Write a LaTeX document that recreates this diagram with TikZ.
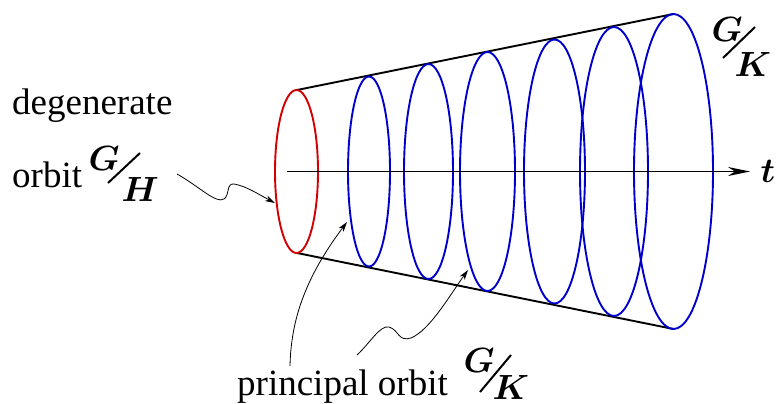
\documentclass[tikz,border=0pt]{standalone}
\usepackage{fontspec}
\setmainfont{Liberation Serif}
\usetikzlibrary{arrows.meta}
\definecolor{orbred}{RGB}{210,0,0}
\definecolor{orbblue}{RGB}{0,0,205}
\newcommand\qlett[1]{{\boldmath$#1$}}
\begin{document}
\begin{tikzpicture}[x=1pt,y=-1pt,
  lbl/.style={inner sep=0pt,anchor=base west,font=\fontsize{37}{42}\selectfont},
  qlet/.style={inner sep=0pt,anchor=base west,scale=3.5,transform shape},
  slash/.style={line width=2pt},
  orbitring/.style={line width=1.9pt},
  cone/.style={line width=1.9pt,line cap=round},
  axis/.style={line width=1.1pt,-{Stealth[length=22pt,width=9pt,inset=7pt]}},
  pointer/.style={line width=0.8pt,-{Stealth[length=10pt,width=6pt,inset=3pt]}}]
\useasboundingbox (0,0) rectangle (776,404);
% cone lines
\coordinate (ctl) at (297,90);
\coordinate (cbl) at (297,253);
\coordinate (ctr) at (673.5,14);
\coordinate (cbr) at (673.5,329);
\draw[cone] (ctl) -- (ctr);
\draw[cone] (cbl) -- (cbr);
% orbits
\draw[orbitring,orbred] (296.5,171.5) ellipse [x radius=21.5pt,y radius=81.5pt];
\draw[orbitring,orbblue] (369,171.5) ellipse [x radius=21pt,y radius=95pt];
\draw[orbitring,orbblue] (428.5,171.5) ellipse [x radius=24.5pt,y radius=107.5pt];
\draw[orbitring,orbblue] (487.5,171.5) ellipse [x radius=27.5pt,y radius=119.5pt];
\draw[orbitring,orbblue] (554.5,171.5) ellipse [x radius=30.5pt,y radius=132pt];
\draw[orbitring,orbblue] (614,171.5) ellipse [x radius=34pt,y radius=144.5pt];
\draw[orbitring,orbblue] (673.5,171.5) ellipse [x radius=39.5pt,y radius=157.5pt];
% axis
\coordinate (ax0) at (287,171.5);
\coordinate (ax1) at (750,171.5);
\draw[axis] (ax0) -- (ax1);
\node[qlet] (tlab) at (760,182) {\qlett{t}};
% top right G/K
\node[qlet] (gk1n) at (711,42) {\qlett{G}};
\node[qlet] (gk1d) at (734,77) {\qlett{K}};
\draw[slash] (723,58) -- (755,27);
% degenerate orbit label
\node[lbl] (deg) at (12,114) {degenerate};
\node[lbl] (orb) at (12,187) {orbit};
\node[qlet] (gh1n) at (88,170) {\qlett{G}};
\node[qlet] (gh1d) at (121,201) {\qlett{H}};
\draw[slash] (108,183) -- (140,153);
% principal orbit label
\node[qlet] (gk2n) at (463,372) {\qlett{G}};
\node[qlet] (gk2d) at (492,399) {\qlett{K}};
\draw[slash] (480,392) -- (511,355);
\node[lbl] (prin) at (237,395) {principal orbit};
% pointers
\coordinate (p0s) at (177,174);
\coordinate (p0e) at (275,203);
\draw[pointer] (p0s) .. controls (200,187) and (216,204) .. (224,199)
  .. controls (230,195) and (226,183) .. (234,184)
  .. controls (246,186) and (258,194) .. (p0e);
\coordinate (p1s) at (290,366);
\coordinate (p1e) at (347,222);
\draw[pointer] (p1s) .. controls (291,320) and (305,278) .. (p1e);
\coordinate (p2s) at (357,355);
\coordinate (p2e) at (468,270);
\draw[pointer] (p2s) .. controls (370,343) and (380,325) .. (389,327)
  .. controls (399,330) and (398,342) .. (411,338)
  .. controls (430,330) and (450,295) .. (p2e);
\end{tikzpicture}
\end{document}
